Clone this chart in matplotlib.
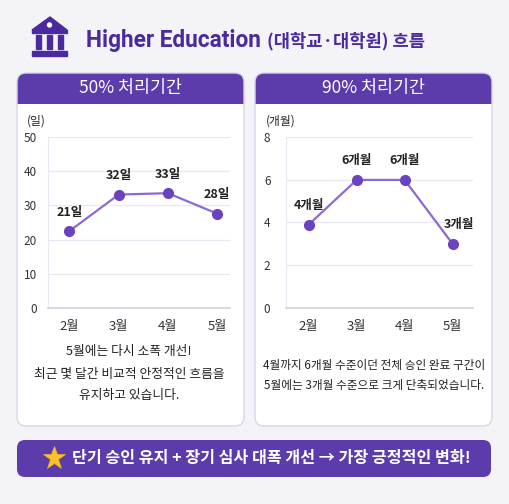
import matplotlib
matplotlib.use("Agg")
import matplotlib.pyplot as plt
from matplotlib.patches import FancyBboxPatch, Rectangle, Polygon, Circle

plt.rcParams['font.family'] = ['Noto Sans CJK KR', 'DejaVu Sans']

# ---- data ----
months = ['2월', '3월', '4월', '5월']
p50_values = [22.5, 33.2, 33.6, 27.6]
p50_labels = ['21일', '32일', '33일', '28일']
p90_values = [3.9, 6.0, 6.0, 3.0]
p90_labels = ['4개월', '6개월', '6개월', '3개월']
p50_yticks = [0, 10, 20, 30, 40, 50]
p90_yticks = [0, 2, 4, 6, 8]

title_en = 'Higher Education'
title_ko = '(대학교·대학원) 흐름'
left_header = '50% 처리기간'
right_header = '90% 처리기간'
left_unit = '(일)'
right_unit = '(개월)'
left_note = ['5월에는 다시 소폭 개선!', '최근 몇 달간 비교적 안정적인 흐름을', '유지하고 있습니다.']
right_note = ['4월까지 6개월 수준이던 전체 승인 완료 구간이', '5월에는 3개월 수준으로 크게 단축되었습니다.']
banner = '단기 승인 유지 + 장기 심사 대폭 개선 → 가장 긍정적인 변화!'

W, H = 509, 504
BG = '#F4F3F8'
PURPLE = '#5C3BAA'
TITLE_C = '#4A2A9E'
LINE_C = '#8D69D6'
MARK_C = '#6A43BF'
BORDER = '#DAD6EA'
GRID = '#E9E7F1'
TXT = '#222222'

fig = plt.figure(figsize=(W / 100, H / 100), dpi=100)
fig.patch.set_facecolor(BG)
ax0 = fig.add_axes([0, 0, 1, 1])
ax0.set_xlim(0, W)
ax0.set_ylim(H, 0)
ax0.axis('off')
ax0.set_zorder(0)

# ---- title icon ----
ax0.add_patch(Polygon([[32, 30], [50, 17], [67, 30]], closed=True, color=TITLE_C))
ax0.add_patch(Rectangle((32, 30), 35, 2.5, color=TITLE_C))
ax0.add_patch(Circle((49.5, 25), 2.0, color='white'))
for cx in (36, 46.8, 57.8):
    ax0.add_patch(Rectangle((cx, 34.5), 5, 14, color=TITLE_C))
ax0.add_patch(Rectangle((32, 51), 35, 5, color=TITLE_C))

ax0.text(86, 40, title_en, fontsize=16.3, fontweight='bold', color=TITLE_C,
         family=['Roboto', 'DejaVu Sans'], va='center', ha='left')
ax0.text(267, 41, title_ko, fontsize=12.7, fontweight='bold', color=TITLE_C,
         va='center', ha='left')

# ---- cards ----
def card(x0, x1, y0, y1, header):
    r = 9
    c = FancyBboxPatch((x0 + r, y0 + r), (x1 - x0) - 2 * r, (y1 - y0) - 2 * r,
                       boxstyle=f'round,pad={r}', facecolor='white', edgecolor='none', zorder=1)
    ax0.add_patch(c)
    hdr = Rectangle((x0 - 1, y0 - 1), (x1 - x0) + 2, 31 + 1, facecolor=PURPLE,
                    edgecolor='none', zorder=2)
    ax0.add_patch(hdr)
    hdr.set_clip_path(c)
    e = FancyBboxPatch((x0 + r, y0 + r), (x1 - x0) - 2 * r, (y1 - y0) - 2 * r,
                       boxstyle=f'round,pad={r}', facecolor='none', edgecolor=BORDER,
                       linewidth=1.0, zorder=3)
    ax0.add_patch(e)
    ax0.text((x0 + x1) / 2, y0 + 15.5, header, fontsize=12.5, color='white',
             ha='center', va='center', zorder=4)

card(17, 244, 73, 426, left_header)
card(255, 492, 73, 426, right_header)

ax0.text(27, 121, left_unit, fontsize=8.5, color=TXT, ha='left', va='center', zorder=4)
ax0.text(266, 121, right_unit, fontsize=8.5, color=TXT, ha='left', va='center', zorder=4)

for i, line in enumerate(left_note):
    ax0.text(129, 352 + i * 22, line, fontsize=9.2, color=TXT, ha='center', va='center', zorder=4)
for i, line in enumerate(right_note):
    ax0.text(374, 366 + i * 19.5, line, fontsize=8.4, color=TXT, ha='center', va='center', zorder=4)

# ---- banner ----
r = 8
ax0.add_patch(FancyBboxPatch((17 + r, 440 + r), 474 - 2 * r, 37 - 2 * r,
                             boxstyle=f'round,pad={r}', facecolor=PURPLE, edgecolor='none', zorder=1))
ax0.plot([54], [458], marker='*', markersize=17, color='#F7C52B', markeredgecolor='#F0B020',
         markeredgewidth=0.5, zorder=3)
ax0.text(72, 458.5, banner, fontsize=11.6, fontweight='bold', color='white',
         ha='left', va='center', zorder=3)

# ---- charts ----
def chart(px0, px1, py0, py1, xlim, values, labels, yticks, label_dx):
    ax = fig.add_axes([px0 / W, 1 - py1 / H, (px1 - px0) / W, (py1 - py0) / H])
    ax.set_zorder(5)
    ax.patch.set_alpha(0)
    x = list(range(len(values)))
    ax.plot(x, values, color=LINE_C, linewidth=1.6, zorder=3)
    ax.plot(x, values, linestyle='none', marker='o', markersize=7, color=MARK_C, zorder=4)
    ax.set_xlim(*xlim)
    ax.set_ylim(yticks[0], yticks[-1])
    ax.set_yticks(yticks)
    ax.set_xticks(x)
    ax.set_xticklabels(months)
    ax.grid(axis='y', color=GRID, linewidth=0.9)
    ax.set_axisbelow(True)
    for s in ('top', 'right'):
        ax.spines[s].set_visible(False)
    ax.spines['left'].set_color(GRID)
    ax.spines['bottom'].set_color('#D3D0E2')
    ax.spines['bottom'].set_linewidth(1.2)
    ax.tick_params(axis='both', length=0, colors='#333333')
    ax.tick_params(axis='y', labelsize=8.5)
    ax.tick_params(axis='x', pad=9, labelsize=9.5)
    for xi, v, lab, dx in zip(x, values, labels, label_dx):
        ax.annotate(lab, (xi, v), xytext=(dx, 19), textcoords='offset pixels',
                    ha='center', va='center', fontsize=9, fontweight='bold', color=TXT)
    return ax

axL = chart(48.3, 230, 137.3, 307.7, (-0.43, 3.26), p50_values, p50_labels, p50_yticks, [0, 0, 0, 0])
axL.tick_params(axis='y', pad=8)
axR = chart(285.7, 472.7, 137.3, 307.7, (-0.48, 3.42), p90_values, p90_labels, p90_yticks, [0, 0, 0, 6])
axR.tick_params(axis='y', pad=11)

fig.savefig('out.png', dpi=100, facecolor=BG)
